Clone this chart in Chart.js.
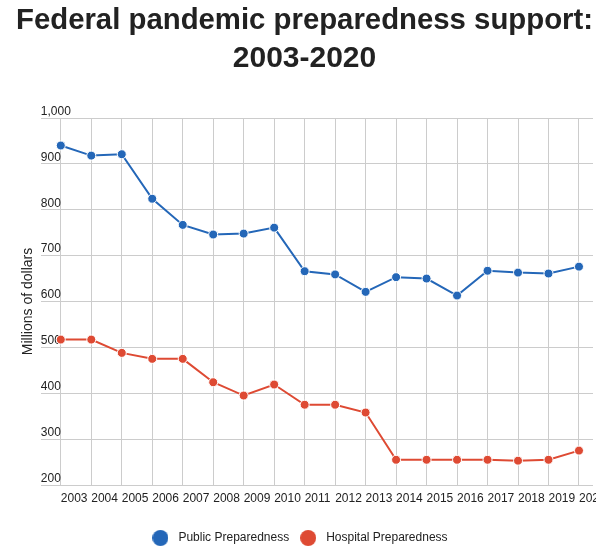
<!DOCTYPE html>
<html>
<head>
<meta charset="utf-8">
<script src="https://cdn.jsdelivr.net/npm/chart.js@4"></script>
<style>
html, body { margin: 0; padding: 0; background: #fff; }
#wrap { width: 611px; height: 556px; }
</style>
</head>
<body>
<div id="wrap"><canvas id="graphchart"></canvas></div>
<script>
var years = [2003, 2004, 2005, 2006, 2007, 2008, 2009, 2010, 2011, 2012, 2013, 2014, 2015, 2016, 2017, 2018, 2019, 2020]
var publicPrep = [940, 918, 921, 824, 767, 746, 748, 761, 666, 659, 621, 653, 650, 613, 667, 663, 661, 676]
var hospitalPrep = [517, 517, 488, 475, 475, 424, 395, 419, 375, 375, 358, 255, 255, 255, 255, 253, 255, 275]
var yTicks = [200, 300, 400, 500, 600, 700, 800, 900, 1000]

var blue = '#2467b8'
var red = '#de4a33'
var font = 'Arial, "Liberation Sans", sans-serif'

function dot(color) {
    var c = document.createElement('canvas')
    c.width = 16
    c.height = 16
    var g = c.getContext('2d')
    g.fillStyle = color
    g.beginPath()
    g.arc(8, 8, 8, 0, Math.PI * 2)
    g.fill()
    return c
}

function toPoints(values) {
    return years.map(function (yr, i) { return { x: yr, y: values[i] } })
}

// the original was cut at ~596px on the right, below the title
var clipRight = {
    id: 'clipRight',
    afterLayout: function (chart) {
        // legend sits a bit left of centre in the original
        chart.legend.left -= 6.5
        chart.legend.right -= 6.5
    },
    beforeDraw: function (chart) {
        var ctx = chart.ctx
        ctx.save()
        ctx.beginPath()
        ctx.rect(0, 0, 611, 100)
        ctx.rect(0, 100, 596, 456)
        ctx.clip()
    },
    afterDraw: function (chart) {
        chart.ctx.restore()
    }
}

var lineChart = null

function showgraphic() {
    var ctx = document.getElementById("graphchart")

    lineChart = new Chart(ctx, {
        type: 'line',
        data: {
            datasets: [{
                label: 'Public Preparedness',
                data: toPoints(publicPrep),
                borderColor: blue,
                backgroundColor: blue,
                borderWidth: 2,
                pointRadius: 4.5,
                pointBorderColor: '#fff',
                pointBorderWidth: 1,
                tension: 0
            }, {
                label: 'Hospital Preparedness',
                data: toPoints(hospitalPrep),
                borderColor: red,
                backgroundColor: red,
                borderWidth: 2,
                pointRadius: 4.5,
                pointBorderColor: '#fff',
                pointBorderWidth: 1,
                tension: 0
            }]
        },
        options: {
            responsive: true,
            maintainAspectRatio: false,
            animation: false,
            layout: {
                padding: { left: 16, right: 18, top: 0, bottom: 2 }
            },
            scales: {
                x: {
                    type: 'linear',
                    min: 2002.344,
                    max: 2020.46,
                    afterBuildTicks: function (s) {
                        s.ticks = years.map(function (v) { return { value: v } })
                    },
                    afterFit: function (s) {
                        s.height = 40
                        s.paddingRight = 0
                        s.paddingLeft = 0
                    },
                    ticks: {
                        align: 'start',
                        padding: 6,
                        maxRotation: 0,
                        autoSkip: false,
                        color: '#222',
                        font: { family: font, size: 12 },
                        callback: function (v) { return String(v) }
                    },
                    grid: { color: '#cccccc', drawTicks: false },
                    border: { display: false }
                },
                y: {
                    min: 200,
                    max: 1000,
                    afterBuildTicks: function (s) {
                        s.ticks = yTicks.map(function (v) { return { value: v } })
                    },
                    ticks: {
                        mirror: true,
                        padding: 0,
                        labelOffset: -6.5,
                        color: '#222',
                        font: { family: font, size: 12 },
                        callback: function (v) { return v.toLocaleString('en-US') }
                    },
                    grid: { color: '#cccccc', drawTicks: false },
                    border: { display: false },
                    title: {
                        display: true,
                        text: 'Millions of dollars',
                        color: '#222',
                        font: { family: font, size: 14 }
                    }
                }
            },
            plugins: {
                title: {
                    display: true,
                    text: ['Federal pandemic preparedness support:', '2003-2020'],
                    color: '#222',
                    font: { family: font, size: 30, weight: 'bold', lineHeight: 1.25 },
                    padding: { top: 2, bottom: 41 }
                },
                legend: {
                    position: "bottom",
                    labels: {
                        usePointStyle: true,
                        pointStyleWidth: 24,
                        padding: 7,
                        color: '#222',
                        font: { family: font, size: 12 },
                        generateLabels: function (chart) {
                            return chart.data.datasets.map(function (ds, i) {
                                return {
                                    text: ds.label,
                                    fillStyle: ds.borderColor,
                                    strokeStyle: ds.borderColor,
                                    lineWidth: 0,
                                    pointStyle: dot(ds.borderColor),
                                    fontColor: '#222',
                                    hidden: false,
                                    datasetIndex: i
                                }
                            })
                        }
                    }
                },
                tooltip: { enabled: false }
            }
        },
        plugins: [clipRight]
    });
}

document.addEventListener("DOMContentLoaded", showgraphic);
</script>
</body>
</html>
